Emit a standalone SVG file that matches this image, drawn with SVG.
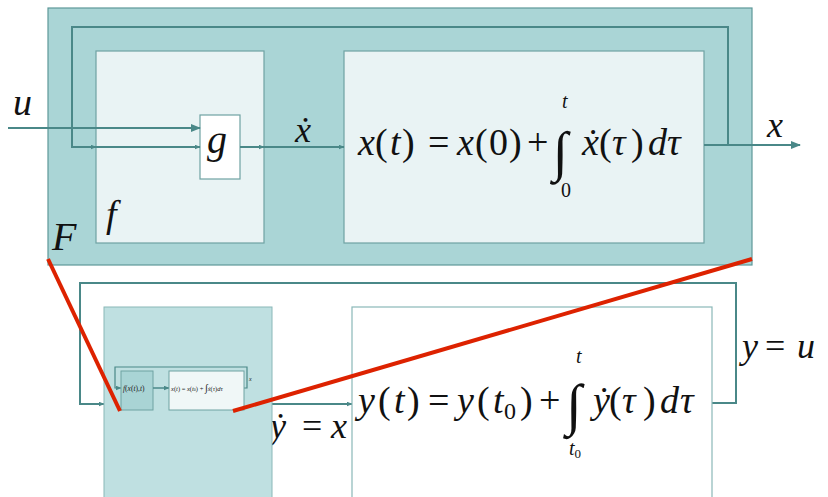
<svg xmlns="http://www.w3.org/2000/svg" width="828" height="497" viewBox="0 0 828 497">
<defs>
<marker id="ah" markerWidth="10" markerHeight="8" refX="9" refY="4" orient="auto" markerUnits="userSpaceOnUse">
<path d="M0,0 L10,4 L0,8 z" fill="#4a8888"/>
</marker>
<marker id="ahs" markerWidth="6" markerHeight="5" refX="5.5" refY="2.5" orient="auto" markerUnits="userSpaceOnUse">
<path d="M0,0 L6,2.5 L0,5 z" fill="#4a8888"/>
</marker>
<style>
.ln{fill:none;stroke:#4a8888;stroke-width:2}
.red{stroke:#dd2200;stroke-width:4;fill:none}
</style>
</defs>
<rect width="828" height="497" fill="#ffffff"/>
<g id="F">
<rect x="48" y="8" width="704" height="257" fill="#aad5d6" stroke="#5e9898" stroke-width="1.2"/>
<text font-family="Liberation Serif" font-style="italic" fill="#111" x="52" y="250" font-size="40">F</text>
</g>
<g id="f">
<rect x="96" y="51" width="168" height="192" fill="#e9f3f4" stroke="#6fa2a2" stroke-width="1.2"/>
<text font-family="Liberation Serif" font-style="italic" fill="#111" x="106" y="227" font-size="38">f</text>
</g>
<g id="g">
<rect x="200" y="115" width="40" height="64" fill="#ffffff" stroke="#6fa2a2" stroke-width="1.2"/>
<text font-family="Liberation Serif" font-style="italic" fill="#111" x="207" y="153" font-size="40">g</text>
</g>
<g id="integrator">
<rect x="344" y="51" width="360" height="192" fill="#e9f3f4" stroke="#6fa2a2" stroke-width="1.2"/>
<text font-family="Liberation Serif" font-style="italic" fill="#111" font-size="38" y="155"><tspan x="358">x</tspan><tspan x="375" font-style="normal">(</tspan><tspan x="390">t</tspan><tspan x="402" font-style="normal">)</tspan><tspan x="428" font-style="normal">=</tspan><tspan x="457">x</tspan><tspan x="475" font-style="normal">(</tspan><tspan x="489" font-style="normal">0</tspan><tspan x="509" font-style="normal">)</tspan><tspan x="527" font-style="normal">+</tspan><tspan x="582">x&#x307;</tspan><tspan x="599" font-style="normal">(</tspan><tspan x="612">τ</tspan><tspan x="631" font-style="normal">)</tspan><tspan x="648">d</tspan><tspan x="667">τ</tspan></text>
<text font-family="Liberation Serif" fill="#111" x="553" y="170" font-size="55">∫</text>
<text font-family="Liberation Serif" font-style="italic" fill="#111" x="562" y="108" font-size="20">t</text>
<text font-family="Liberation Serif" fill="#111" x="561" y="197" font-size="20">0</text>
</g>
<g id="connectors">
<polyline class="ln" points="704,145 728,145 728,27 72,27 72,147 96,147" marker-end="url(#ahs)"/>
<line class="ln" x1="96" y1="147" x2="200" y2="147" marker-end="url(#ahs)"/>
<line class="ln" x1="8" y1="128" x2="200" y2="128" stroke-width="3" marker-end="url(#ah)"/>
<line class="ln" x1="240" y1="147" x2="264" y2="147" marker-end="url(#ahs)"/>
<line class="ln" x1="264" y1="147" x2="344" y2="147" marker-end="url(#ahs)"/>
<line class="ln" x1="704" y1="145" x2="800" y2="145" stroke-width="2.5" marker-end="url(#ah)"/>
<polyline class="ln" points="712,403 736,403 736,283 80,283 80,404 104,404" marker-end="url(#ahs)"/>
<line class="ln" x1="272" y1="404" x2="352" y2="404" stroke-width="1.5" marker-end="url(#ahs)"/>
</g>
<g id="labels">
<text font-family="Liberation Serif" font-style="italic" fill="#111" x="13" y="115" font-size="38">u</text>
<text font-family="Liberation Serif" font-style="italic" fill="#111" x="295" y="142" font-size="36">x&#x307;</text>
<text font-family="Liberation Serif" font-style="italic" fill="#111" x="767" y="137" font-size="36">x</text>
<text font-family="Liberation Serif" font-style="italic" fill="#111" y="438" font-size="36"><tspan x="270">y&#x307;</tspan><tspan x="302" font-style="normal">=</tspan><tspan x="331">x</tspan></text>
<text font-family="Liberation Serif" font-style="italic" fill="#111" y="358" font-size="36"><tspan x="742">y</tspan><tspan x="765" font-style="normal">=</tspan><tspan x="797">u</tspan></text>
</g>
<g id="F-block">
<rect x="104" y="307" width="168" height="200" fill="#bfe0e1" stroke="#8ab8b8" stroke-width="1"/>
<polyline fill="none" stroke="#4a8888" stroke-width="1.2" points="244,388 247,388 247,367 115,367 115,388 121,388" marker-end="url(#ahs)"/>
<rect x="121" y="371" width="32" height="39" fill="#a9d4d5" stroke="#6fa2a2" stroke-width="1"/>
<text font-family="Liberation Serif" font-style="italic" fill="#222" x="123" y="391" font-size="7.5">f<tspan font-style="normal">(</tspan>x<tspan font-style="normal">(</tspan>t<tspan font-style="normal">),</tspan>t<tspan font-style="normal">)</tspan></text>
<line stroke="#4a8888" stroke-width="1.5" x1="153" y1="388" x2="169" y2="388" marker-end="url(#ahs)"/>
<rect x="169" y="371" width="75" height="39" fill="#f0f7f7" stroke="#6fa2a2" stroke-width="1"/>
<text font-family="Liberation Serif" font-style="italic" fill="#222" x="171" y="391" font-size="6.5">x<tspan font-style="normal">(</tspan>t<tspan font-style="normal">) = </tspan>x<tspan font-style="normal">(</tspan>t<tspan font-style="normal" font-size="4">0</tspan><tspan font-style="normal">) + </tspan><tspan font-style="normal" font-size="10">∫</tspan>x&#x307;<tspan font-style="normal">(</tspan>τ<tspan font-style="normal">)</tspan>dτ</text>
<text font-family="Liberation Serif" font-style="italic" fill="#222" x="249" y="381" font-size="6">x</text>
</g>
<g id="Y-block">
<rect x="352" y="307" width="360" height="200" fill="#ffffff" stroke="#8ab8b8" stroke-width="1.2"/>
<text font-family="Liberation Serif" font-style="italic" fill="#111" font-size="38" y="413"><tspan x="358">y</tspan><tspan x="378" font-style="normal">(</tspan><tspan x="394">t</tspan><tspan x="407" font-style="normal">)</tspan><tspan x="428" font-style="normal">=</tspan><tspan x="457">y</tspan><tspan x="477" font-style="normal">(</tspan><tspan x="493">t</tspan><tspan x="504" font-style="normal" font-size="24" dy="6">0</tspan><tspan x="520" font-style="normal" dy="-6">)</tspan><tspan x="539" font-style="normal">+</tspan><tspan x="593">y&#x307;</tspan><tspan x="609" font-style="normal">(</tspan><tspan x="622">τ</tspan><tspan x="643" font-style="normal">)</tspan><tspan x="660">d</tspan><tspan x="680">τ</tspan></text>
<text font-family="Liberation Serif" fill="#111" x="566" y="424" font-size="57">∫</text>
<text font-family="Liberation Serif" font-style="italic" fill="#111" x="576" y="363" font-size="20">t</text>
<text font-family="Liberation Serif" font-style="italic" fill="#111" x="569" y="455" font-size="20">t<tspan font-style="normal" font-size="13" dy="3">0</tspan></text>
</g>
<g id="zoom-lines">
<line class="red" x1="48" y1="259" x2="120" y2="411"/>
<line class="red" x1="752" y1="259" x2="233" y2="411"/>
</g>
</svg>
